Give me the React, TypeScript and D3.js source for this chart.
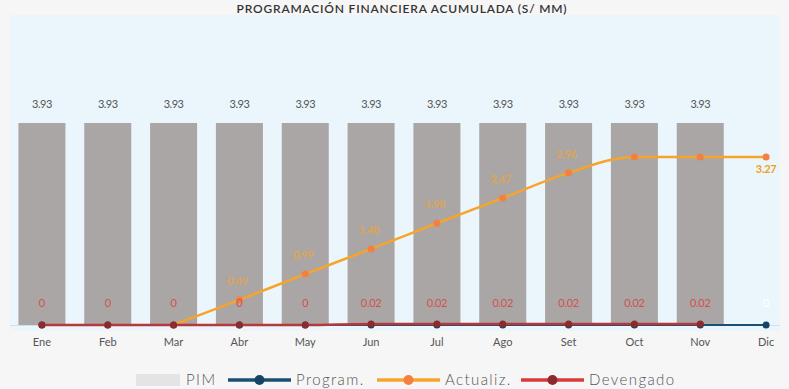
import React, { useEffect, useRef } from 'react';
import * as d3 from 'd3';

// datos del gráfico (S/ MM)
const months = ['Ene', 'Feb', 'Mar', 'Abr', 'May', 'Jun', 'Jul', 'Ago', 'Set', 'Oct', 'Nov', 'Dic'];
const pim: (number | null)[] = [3.93, 3.93, 3.93, 3.93, 3.93, 3.93, 3.93, 3.93, 3.93, 3.93, 3.93, null];
const programado: (number | null)[] = [0, 0, 0, 0, 0, 0, 0, 0, 0, 0, 0, 0];
const actualizado: (number | null)[] = [null, null, 0, 0.49, 0.99, 1.48, 1.98, 2.47, 2.96, 3.27, 3.27, 3.27];
const devengado: (number | null)[] = [0, 0, 0, 0, 0, 0.02, 0.02, 0.02, 0.02, 0.02, 0.02, null];
// etiquetas visibles de "Actualiz." (las de Oct y Nov quedan ocultas)
const actLabelShown = [false, false, false, true, true, true, true, true, true, false, false, true];

const title = 'PROGRAMACIÓN FINANCIERA ACUMULADA (S/ MM)';
const W = 789;
const H = 389;
const FONT = "Lato, 'Open Sans', sans-serif";

const App: React.FC = () => {
  const svgRef = useRef<SVGSVGElement>(null);

  useEffect(() => {
    if (!svgRef.current) return;
    const svg = d3.select(svgRef.current);
    svg.selectAll('*').remove();

    // fondo
    svg.append('rect').attr('width', W).attr('height', H).attr('fill', '#f6f6f6');
    svg.append('rect').attr('x', 10).attr('y', 15).attr('width', 770).attr('height', 316).attr('fill', '#eaf6fc');

    // título
    svg.append('text')
      .attr('x', 402).attr('y', 13)
      .attr('text-anchor', 'middle')
      .style('font-family', FONT).style('font-size', '12px').style('font-weight', '600')
      .style('letter-spacing', '0.8px')
      .style('fill', '#333').text(title);

    const x = d3.scaleBand<string>().domain(months).range([9, 799]).paddingInner(0.286).paddingOuter(0.143);
    const cx = (m: string) => (x(m) as number) + x.bandwidth() / 2;
    const y = d3.scaleLinear().domain([0, 4]).range([325, 119.4]);

    // eje x
    svg.append('line').attr('x1', 10).attr('x2', 780).attr('y1', 325.5).attr('y2', 325.5)
      .attr('stroke', '#d8dde6').attr('stroke-width', 1);
    svg.append('g').selectAll('text').data(months).join('text')
      .attr('x', d => cx(d)).attr('y', 346)
      .attr('text-anchor', 'middle')
      .style('font-family', FONT).style('font-size', '11px').style('fill', '#555')
      .text(d => d);

    // barras PIM
    const pimData = months.map((m, i) => ({ m, v: pim[i] })).filter(d => d.v !== null) as { m: string; v: number }[];
    svg.append('g').selectAll('rect').data(pimData).join('rect')
      .attr('x', d => x(d.m) as number).attr('width', x.bandwidth())
      .attr('y', d => y(d.v)).attr('height', d => y(0) - y(d.v))
      .attr('fill', '#aaa6a5');
    svg.append('g').selectAll('text').data(pimData).join('text')
      .attr('x', d => cx(d.m)).attr('y', d => y(d.v) - 15)
      .attr('text-anchor', 'middle')
      .style('font-family', FONT).style('font-size', '11px').style('fill', '#555')
      .style('letter-spacing', '-0.5px')
      .text(d => d.v.toFixed(2));

    const series = [
      { name: 'Program.', data: programado, line: '#1b4f72', dot: '#174466', width: 2 },
      { name: 'Actualiz.', data: actualizado, line: '#f6a52a', dot: '#f4803f', width: 2.5 },
      { name: 'Devengado', data: devengado, line: '#b8373a', dot: '#8c2a2c', width: 2.5 },
    ];

    const line = d3.line<{ m: string; v: number }>()
      .x(d => cx(d.m)).y(d => y(d.v))
      .curve(d3.curveMonotoneX);

    series.forEach(s => {
      const pts = months.map((m, i) => ({ m, v: s.data[i] })).filter(d => d.v !== null) as { m: string; v: number }[];
      svg.append('path').datum(pts)
        .attr('d', line).attr('fill', 'none')
        .attr('stroke', s.line).attr('stroke-width', s.width);
      svg.append('g').selectAll('circle').data(pts).join('circle')
        .attr('cx', d => cx(d.m)).attr('cy', d => y(d.v)).attr('r', 3.5)
        .attr('fill', s.dot);
    });

    // etiquetas Programado (solo donde no hay devengado)
    svg.append('g').selectAll('text')
      .data(months.map((m, i) => ({ m, v: programado[i], dv: devengado[i] })).filter(d => d.v !== null && d.dv === null))
      .join('text')
      .attr('x', d => cx(d.m)).attr('y', 307)
      .attr('text-anchor', 'middle')
      .style('font-family', FONT).style('font-size', '11px').style('fill', '#ffffff')
      .text(d => String(d.v));

    // etiquetas Devengado
    svg.append('g').selectAll('text')
      .data(months.map((m, i) => ({ m, v: devengado[i] })).filter(d => d.v !== null) as { m: string; v: number }[])
      .join('text')
      .attr('x', d => cx(d.m)).attr('y', 307)
      .attr('text-anchor', 'middle')
      .style('font-family', FONT).style('font-size', '11px').style('fill', '#d4504c')
      .style('letter-spacing', '-0.3px')
      .text(d => (d.v === 0 ? '0' : d.v.toFixed(2)));

    // etiquetas Actualizado
    const act = months.map((m, i) => ({ m, v: actualizado[i], i }))
      .filter(d => d.v !== null && actLabelShown[d.i]) as { m: string; v: number; i: number }[];
    const lastIdx = act[act.length - 1].i;
    svg.append('g').selectAll('text').data(act).join('text')
      .attr('x', d => cx(d.m) + (d.i === lastIdx ? 0 : -2))
      .attr('y', d => (d.i === lastIdx ? y(d.v) + 16 : y(d.v) - 15))
      .attr('text-anchor', 'middle')
      .style('font-family', FONT).style('font-size', '11px').style('font-weight', '700')
      .style('fill', d => (d.i === lastIdx ? '#eea21c' : '#f2a531'))
      .style('fill-opacity', d => (d.i === lastIdx ? 1 : 0.7))
      .style('letter-spacing', '-0.3px')
      .text(d => d.v.toFixed(2));

    // leyenda
    const lg = svg.append('g').attr('transform', 'translate(0,380)');
    lg.append('rect').attr('x', 136).attr('y', -6).attr('width', 44).attr('height', 12).attr('fill', '#e4e4e4');
    const legendText = (tx: number, label: string) =>
      lg.append('text').attr('x', tx).attr('y', 5)
        .style('font-family', FONT).style('font-size', '15px').style('font-weight', '300')
        .style('letter-spacing', '1.4px')
        .style('fill', '#555').text(label);
    legendText(186, 'PIM');
    const legendX = [228, 377, 521];
    series.forEach((s, i) => {
      const lx = legendX[i];
      lg.append('line').attr('x1', lx).attr('x2', lx + 63).attr('y1', 0).attr('y2', 0)
        .attr('stroke', s.name === 'Devengado' ? '#d83a3a' : s.line).attr('stroke-width', 3.5);
      lg.append('circle').attr('cx', lx + 31.5).attr('cy', 0).attr('r', 5).attr('fill', s.dot);
      legendText(lx + 68, s.name);
    });
  }, []);

  return (
    <div style={{ position: 'absolute', left: 0, top: 0, width: W, height: H, overflow: 'hidden' }}>
      <svg ref={svgRef} width={W} height={H} style={{ display: 'block' }} />
    </div>
  );
};

export default App;
